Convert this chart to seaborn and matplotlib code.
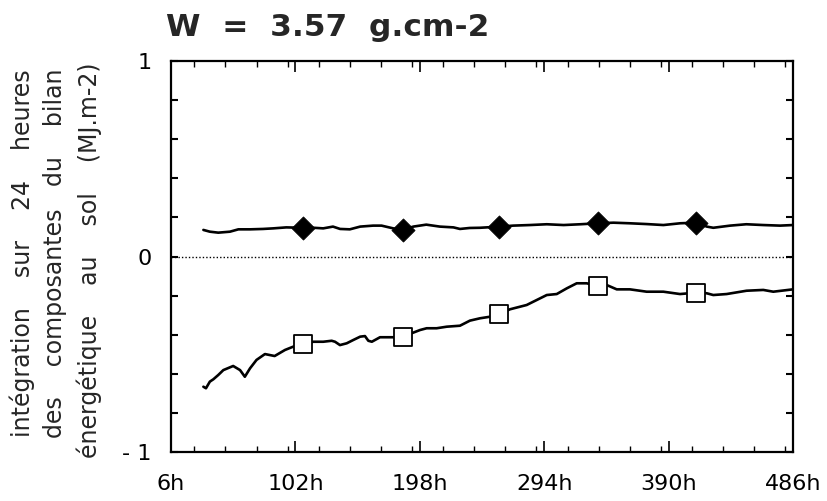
import matplotlib
matplotlib.use("Agg")
import matplotlib.pyplot as plt
import seaborn as sns
import pandas as pd
from matplotlib.ticker import MultipleLocator, FixedLocator

# ---- data ----
upper_h = [31, 36, 42.5, 51.5, 58, 67, 77, 85, 95, 107.6, 116, 123.5, 131, 136.5, 144, 152, 162, 168.5,
           177.5, 184.8, 193, 203, 213.5, 224, 229, 236.5, 244.5, 260, 270, 283, 296, 309, 322, 335.3,
           347.5, 360, 373, 386, 399, 411.1, 419.5, 424.5, 437.5, 450, 463, 476, 486]
upper_v = [0.136, 0.127, 0.122, 0.127, 0.139, 0.139, 0.141, 0.144, 0.149, 0.147, 0.147, 0.144, 0.153,
           0.141, 0.139, 0.153, 0.158, 0.158, 0.144, 0.136, 0.153, 0.163, 0.153, 0.149, 0.141, 0.146,
           0.147, 0.153, 0.158, 0.161, 0.165, 0.161, 0.165, 0.170, 0.173, 0.170, 0.166, 0.161, 0.170,
           0.173, 0.153, 0.147, 0.158, 0.165, 0.161, 0.158, 0.161]

lower_h = [31, 33, 36, 38.7, 42.5, 46.4, 54, 59.3, 63, 67, 72, 78.5, 86, 94, 100.4, 107.6, 115.8, 123.5,
           130, 132.6, 136.4, 141.6, 146.7, 152, 155.7, 158.3, 161, 167.3, 177.6, 184.8, 190.4, 198.2,
           203.3, 211, 218.8, 229, 236.7, 244.5, 252.2, 259.1, 267.6, 280.5, 296, 303.7, 311.4, 319.1,
           326.8, 335.3, 342.3, 350, 360.2, 373.1, 386, 398.8, 411.1, 419.4, 424.5, 434.8, 450.2,
           463.1, 470.8, 486]
lower_v = [-0.666, -0.674, -0.640, -0.628, -0.606, -0.581, -0.560, -0.581, -0.615, -0.572, -0.529,
           -0.499, -0.509, -0.478, -0.461, -0.449, -0.436, -0.436, -0.431, -0.436, -0.453, -0.444,
           -0.427, -0.410, -0.407, -0.431, -0.436, -0.413, -0.413, -0.413, -0.396, -0.376, -0.367,
           -0.367, -0.359, -0.354, -0.328, -0.316, -0.308, -0.296, -0.270, -0.248, -0.197, -0.192,
           -0.163, -0.137, -0.137, -0.151, -0.146, -0.168, -0.168, -0.180, -0.180, -0.192, -0.185,
           -0.188, -0.197, -0.192, -0.175, -0.171, -0.180, -0.168]

marker_h = [107.6, 184.8, 259.1, 335.3, 411.1]
diamond_v = [0.147, 0.136, 0.153, 0.170, 0.173]
square_v = [-0.449, -0.413, -0.296, -0.151, -0.185]

x_ticks = [6, 102, 198, 294, 390, 486]
x_labels = ["6h", "102h", "198h", "294h", "390h", "486h"]
y_ticks = [-1, 0, 1]
y_labels = ["- 1", "0", "1"]

title = "W  =  3.57  g.cm-2"
ylab_lines = ["intégration    sur    24    heures",
              "des    composantes   du    bilan",
              "énergétique    au    sol    (MJ.m-2)"]

# ---- plot ----
sns.set_theme(style="white")
plt.rcParams["font.family"] = ["DejaVu Sans"]

fig = plt.figure(figsize=(8.28, 5.01), dpi=100)
ax = fig.add_axes([0.2065, 0.0978, 0.7512, 0.7804])

up = pd.DataFrame({"h": upper_h, "v": upper_v})
lo = pd.DataFrame({"h": lower_h, "v": lower_v})
mk = pd.DataFrame({"h": marker_h, "d": diamond_v, "s": square_v})

ax.axhline(0, color="black", lw=1.0, ls=(0, (1, 1.5)), zorder=1)
sns.lineplot(data=up, x="h", y="v", ax=ax, color="black", lw=1.9, sort=False, zorder=2)
sns.lineplot(data=lo, x="h", y="v", ax=ax, color="black", lw=1.9, sort=False, zorder=2)
sns.scatterplot(data=mk, x="h", y="d", ax=ax, marker="D", s=140, color="black",
                edgecolor="black", linewidth=0.5, zorder=3)
sns.scatterplot(data=mk, x="h", y="s", ax=ax, marker="s", s=160, color="white",
                edgecolor="black", linewidth=1.3, zorder=3)

ax.set_xlim(6, 486)
ax.set_ylim(-1, 1)
ax.set_xlabel("")
ax.set_ylabel("")

ax.xaxis.set_major_locator(FixedLocator(x_ticks))
ax.set_xticklabels(x_labels)
ax.xaxis.set_minor_locator(MultipleLocator(24))
ax.yaxis.set_major_locator(FixedLocator(y_ticks))
ax.set_yticklabels(y_labels)
ax.yaxis.set_minor_locator(MultipleLocator(0.2))

ax.tick_params(axis="both", which="both", direction="in", top=True, right=True,
               bottom=True, left=True, colors="black")
ax.tick_params(axis="x", which="major", length=8, width=1.2, pad=16, labelsize=16)
ax.tick_params(axis="x", which="minor", length=4, width=1.0)
ax.tick_params(axis="y", which="major", length=5, width=1.5, pad=14, labelsize=16)
ax.tick_params(axis="y", which="minor", length=5, width=1.5)

for s in ax.spines.values():
    s.set_visible(True)
    s.set_color("black")
    s.set_linewidth(1.6)

fig.text(166 / 828, 1 - 27 / 501, title, fontsize=22.5, fontweight="bold",
         ha="left", va="center")

ylab_x = [22, 55, 89]
ylab_y = [437, 438, 458]
for t, xx, yy in zip(ylab_lines, ylab_x, ylab_y):
    fig.text(xx / 828, 1 - yy / 501, t, rotation=90, fontsize=17,
             ha="center", va="bottom")

fig.savefig("out.png", dpi=100)
